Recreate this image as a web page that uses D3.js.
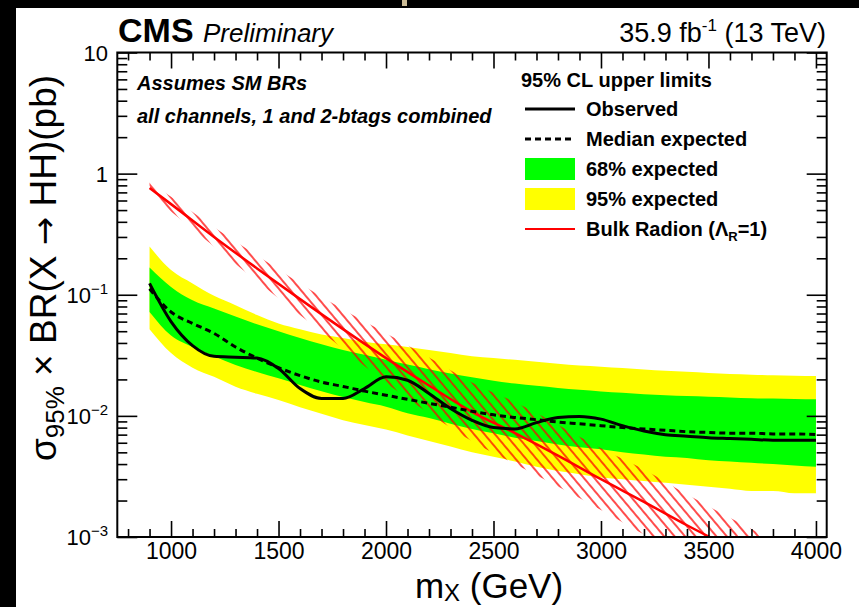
<!DOCTYPE html>
<html><head><meta charset="utf-8">
<script src="https://cdn.jsdelivr.net/npm/d3@7"></script>
<style>
body{margin:0;background:#fff}
svg{display:block}
text{font-family:"Liberation Sans",Arial,Helvetica,sans-serif;fill:#000}
</style>
</head><body>
<svg id="c" width="859" height="607"></svg>
<script>
// ---------------- data ----------------
const masses = [900,1000,1100,1200,1300,1400,1500,1600,1700,1800,1900,2000,2100,2200,2300,2400,2500,2600,2700,2800,2900,3000,3100,3200,3300,3400,3500,3600,3700,3800,3900,4000];
const observed = [0.124,0.060,0.038,0.031,0.0305,0.030,0.0246,0.0168,0.0139,0.0139,0.0168,0.021,0.0197,0.0153,0.0115,0.0092,0.0080,0.0078,0.0088,0.0097,0.0099,0.0094,0.0083,0.0075,0.0070,0.0068,0.0066,0.0065,0.0064,0.0063,0.0063,0.0063];
const expected = [0.112,0.072,0.058,0.048,0.037,0.030,0.025,0.0215,0.019,0.0175,0.016,0.0148,0.0137,0.0127,0.0118,0.0109,0.0102,0.0097,0.0093,0.0089,0.0086,0.0083,0.0080,0.0078,0.0076,0.0074,0.0073,0.0072,0.0072,0.0071,0.0071,0.0070];
const exp68Up = [0.168,0.116,0.090,0.077,0.066,0.057,0.050,0.044,0.039,0.035,0.032,0.029,0.0265,0.0243,0.0224,0.0208,0.0195,0.0185,0.0177,0.0170,0.0164,0.0159,0.0155,0.0151,0.0148,0.0146,0.0144,0.0142,0.0140,0.0139,0.0138,0.0137];
const exp68Dn = [0.072,0.046,0.037,0.031,0.0263,0.023,0.0204,0.018,0.016,0.0143,0.013,0.0119,0.0105,0.0096,0.0086,0.0078,0.0072,0.0066,0.0062,0.0058,0.0055,0.0053,0.0050,0.0048,0.0046,0.0045,0.0043,0.0042,0.0041,0.0040,0.0039,0.0038];
const exp95Up = [0.25,0.16,0.124,0.098,0.082,0.068,0.058,0.052,0.047,0.044,0.041,0.039,0.037,0.035,0.033,0.031,0.030,0.029,0.028,0.027,0.026,0.0255,0.0248,0.0242,0.0236,0.0231,0.0226,0.0222,0.0219,0.0216,0.0214,0.0213];
const exp95Dn = [0.052,0.033,0.025,0.021,0.0174,0.0152,0.0135,0.0118,0.0104,0.0092,0.0084,0.0077,0.0069,0.0062,0.0056,0.0050,0.0046,0.0042,0.0038,0.0035,0.0033,0.0031,0.0030,0.0029,0.0028,0.0027,0.0026,0.0025,0.0024,0.0024,0.0023,0.0023];

const radionMass = [900,1000,1200,1400,1600,1800,2000,2200,2400,2600,2800,3000,3200,3400,3600,3800];
const radion     = [0.76,0.56,0.30,0.165,0.092,0.052,0.030,0.0178,0.0108,0.0072,0.0047,0.0030,0.00195,0.00125,0.00082,0.00054];
const radionUp   = [0.85,0.644,0.36,0.211,0.124,0.0754,0.048,0.0303,0.0189,0.0130,0.00846,0.0054,0.00361,0.00225,0.00144,0.000945];
const radionDn   = [0.68,0.487,0.25,0.129,0.068,0.0359,0.0188,0.0105,0.00617,0.0040,0.00261,0.00167,0.00105,0.000694,0.000469,0.000309];

const xMajorTicks = [1000,1500,2000,2500,3000,3500,4000];
const yMajorTicks = [1e-3,1e-2,1e-1,1,10];
const yTickLabels = [["10","−3"],["10","−2"],["10","−1"],["1",""],["10",""]];
const legendLabels = ["Observed","Median expected","68% expected","95% expected","Bulk Radion"];

// ---------------- layout ----------------
const svg = d3.select("#c");
const P = {l:117.3, r:826.7, t:52.5, b:537};
const x = d3.scaleLinear().domain([750,4050]).range([P.l,P.r]);
const y = d3.scaleLog().domain([1e-3,10]).range([P.b,P.t]);

svg.append("rect").attr("width",859).attr("height",607).attr("fill","#fff");
svg.append("rect").attr("x",0).attr("y",0).attr("width",16).attr("height",607).attr("fill","#000");
svg.append("rect").attr("x",0).attr("y",0).attr("width",859).attr("height",8).attr("fill","#000");
svg.append("rect").attr("x",402).attr("y",0).attr("width",5).attr("height",6).attr("fill","#cbbb96");

const defs = svg.append("defs");
defs.append("clipPath").attr("id","plotclip").append("rect")
  .attr("x",P.l).attr("y",P.t).attr("width",P.r-P.l).attr("height",P.b-P.t);
const pat = defs.append("pattern").attr("id","hatch").attr("patternUnits","userSpaceOnUse")
  .attr("width",8).attr("height",8).attr("patternTransform","rotate(-40)");
pat.append("line").attr("x1",4).attr("y1",-1).attr("x2",4).attr("y2",9)
  .attr("stroke","#ff0000").attr("stroke-width",1.4);

const g = svg.append("g").attr("clip-path","url(#plotclip)");
const idx = d3.range(masses.length);
const curve = d3.curveMonotoneX;

const band = (up,dn) => d3.area().curve(curve)
  .x(i=>x(masses[i])).y0(i=>y(dn[i])).y1(i=>y(up[i]))(idx);
g.append("path").attr("d",band(exp95Up,exp95Dn)).attr("fill","#ffff00");
g.append("path").attr("d",band(exp68Up,exp68Dn)).attr("fill","#00ff00");

const ridx = d3.range(radionMass.length);
g.append("path").attr("d", d3.area().curve(curve)
   .x(i=>x(radionMass[i])).y0(i=>y(radionDn[i])).y1(i=>y(radionUp[i]))(ridx))
  .attr("fill","url(#hatch)");
g.append("path").attr("d", d3.line().curve(curve)
   .x(i=>x(radionMass[i])).y(i=>y(radion[i]))(ridx))
  .attr("fill","none").attr("stroke","#ff0000").attr("stroke-width",2.5);

g.append("path").attr("d", d3.line().curve(curve).x(i=>x(masses[i])).y(i=>y(expected[i]))(idx))
  .attr("fill","none").attr("stroke","#000").attr("stroke-width",3).attr("stroke-dasharray","6,4");
g.append("path").attr("d", d3.line().curve(curve).x(i=>x(masses[i])).y(i=>y(observed[i]))(idx))
  .attr("fill","none").attr("stroke","#000").attr("stroke-width",3);

// ---------------- axes ----------------
const xMinor = d3.range(800,4050,100).filter(v=>!xMajorTicks.includes(v));
const yMinor = [];
[1e-3,1e-2,1e-1,1].forEach(d=>{for(let k=2;k<=9;k++) yMinor.push(d*k);});

function styleAxis(sel){
  sel.select(".domain").remove();
  sel.selectAll(".tick line").attr("stroke","#000").attr("stroke-width",1.6);
}
const fmtNone = ()=>"";
const axB = svg.append("g").attr("transform",`translate(0,${P.b})`)
  .call(d3.axisBottom(x).tickValues(xMajorTicks).tickSize(-16).tickPadding(15).tickFormat(d3.format("d")));
axB.select(".domain").remove();
axB.selectAll(".tick line").attr("stroke","#000").attr("stroke-width",1.6);
axB.selectAll(".tick text").attr("font-size",23).attr("font-family","'Liberation Sans',Arial,sans-serif").attr("fill","#000").attr("dy","0.3em");
svg.append("g").attr("transform",`translate(0,${P.b})`)
  .call(d3.axisBottom(x).tickValues(xMinor).tickSize(-8).tickFormat(fmtNone)).call(styleAxis);
svg.append("g").attr("transform",`translate(0,${P.t})`)
  .call(d3.axisTop(x).tickValues(xMajorTicks).tickSize(-16).tickFormat(fmtNone)).call(styleAxis);
svg.append("g").attr("transform",`translate(0,${P.t})`)
  .call(d3.axisTop(x).tickValues(xMinor).tickSize(-8).tickFormat(fmtNone)).call(styleAxis);
svg.append("g").attr("transform",`translate(${P.l},0)`)
  .call(d3.axisLeft(y).tickValues(yMajorTicks).tickSize(-20).tickFormat(fmtNone)).call(styleAxis);
svg.append("g").attr("transform",`translate(${P.l},0)`)
  .call(d3.axisLeft(y).tickValues(yMinor).tickSize(-10).tickFormat(fmtNone)).call(styleAxis);
svg.append("g").attr("transform",`translate(${P.r},0)`)
  .call(d3.axisRight(y).tickValues(yMajorTicks).tickSize(-20).tickFormat(fmtNone)).call(styleAxis);
svg.append("g").attr("transform",`translate(${P.r},0)`)
  .call(d3.axisRight(y).tickValues(yMinor).tickSize(-10).tickFormat(fmtNone)).call(styleAxis);

// frame
svg.append("rect").attr("x",P.l).attr("y",P.t).attr("width",P.r-P.l).attr("height",P.b-P.t)
  .attr("fill","none").attr("stroke","#000").attr("stroke-width",2);

// y tick labels
yMajorTicks.forEach((v,i)=>{
  const t = svg.append("text").attr("x",108).attr("y",y(v)+8).attr("text-anchor","end").attr("font-size",22);
  t.append("tspan").text(yTickLabels[i][0]);
  if(yTickLabels[i][1]) t.append("tspan").attr("font-size",15).attr("dy",-9).text(yTickLabels[i][1]);
});

// axis titles
const xt = svg.append("text").attr("x",489).attr("y",598).attr("text-anchor","middle").attr("font-size",35);
xt.append("tspan").text("m");
xt.append("tspan").attr("font-size",24).attr("dy",3).text("X");
xt.append("tspan").attr("dy",-3).text(" (GeV)");

const yt = svg.append("text").attr("transform","translate(56,268) rotate(-90)").attr("text-anchor","middle").attr("font-size",37);
yt.append("tspan").text("σ");
yt.append("tspan").attr("font-size",26).attr("dy",8).text("95%");
yt.append("tspan").attr("dy",-8).text(" × BR(X ");
yt.append("tspan").attr("font-family","'DejaVu Sans',sans-serif").attr("font-size",34).text("→");
yt.append("tspan").text(" HH)(pb)");

// header
svg.append("text").attr("x",118).attr("y",42).attr("font-size",34).attr("font-weight","bold").text("CMS");
svg.append("text").attr("x",203).attr("y",42).attr("font-size",26).attr("font-style","italic").text("Preliminary");
const lumi = svg.append("text").attr("x",826).attr("y",42).attr("text-anchor","end").attr("font-size",27);
lumi.append("tspan").text("35.9 fb");
lumi.append("tspan").attr("font-size",17).attr("dy",-11).text("-1");
lumi.append("tspan").attr("dy",11).text(" (13 TeV)");

// inner text
svg.append("text").attr("x",137).attr("y",90).attr("font-size",20).attr("font-weight","bold").attr("font-style","italic").text("Assumes SM BRs");
svg.append("text").attr("x",137).attr("y",123).attr("font-size",20).attr("font-weight","bold").attr("font-style","italic").text("all channels, 1 and 2-btags combined");

// legend
const L = {x0:525, x1:575, tx:586, y0:109, dy:30};
svg.append("text").attr("x",521).attr("y",87).attr("font-size",20).attr("font-weight","bold").text("95% CL upper limits");
const rows = legendLabels.map((s,i)=>L.y0+i*L.dy);
svg.append("line").attr("x1",L.x0).attr("x2",L.x1).attr("y1",rows[0]).attr("y2",rows[0]).attr("stroke","#000").attr("stroke-width",3);
svg.append("line").attr("x1",L.x0).attr("x2",L.x1).attr("y1",rows[1]).attr("y2",rows[1]).attr("stroke","#000").attr("stroke-width",3).attr("stroke-dasharray","6,4");
svg.append("rect").attr("x",L.x0).attr("y",rows[2]-11).attr("width",L.x1-L.x0).attr("height",22).attr("fill","#00ff00");
svg.append("rect").attr("x",L.x0).attr("y",rows[3]-11).attr("width",L.x1-L.x0).attr("height",22).attr("fill","#ffff00");
svg.append("line").attr("x1",L.x0).attr("x2",L.x1).attr("y1",rows[4]).attr("y2",rows[4]).attr("stroke","#ff0000").attr("stroke-width",2);
legendLabels.forEach((s,i)=>{
  const t = svg.append("text").attr("x",L.tx).attr("y",rows[i]+7).attr("font-size",20).attr("font-weight","bold");
  t.append("tspan").text(s);
  if(i===4){
    t.append("tspan").text(" (Λ");
    t.append("tspan").attr("font-size",13).attr("dy",5).text("R");
    t.append("tspan").attr("dy",-5).text("=1)");
  }
});
</script>
</body></html>
